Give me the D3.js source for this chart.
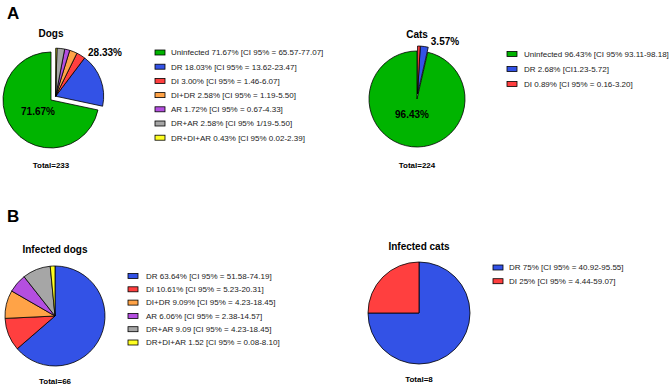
<!DOCTYPE html>
<html>
<head>
<meta charset="utf-8">
<script src="https://cdn.jsdelivr.net/npm/d3@7"></script>
<style>
body { margin: 0; background: #fff; }
svg { font-family: "Liberation Sans", Arial, sans-serif; }
</style>
</head>
<body>
<div class="container"></div>
<script>
// Data
const dogLabels = ["Uninfected 71.67% [CI 95% = 65.57-77.07]", "DR 18.03% [CI 95% = 13.62-23.47]", "DI 3.00% [CI 95% = 1.46-6.07]", "DI+DR 2.58% [CI 95% = 1.19-5.50]", "AR 1.72% [CI 95% = 0.67-4.33]", "DR+AR 2.58% [CI 95% 1/19-5.50]", "DR+DI+AR 0.43% [CI 95% 0.02-2.39]"]
const dogValues = [71.67, 18.03, 3.00, 2.58, 1.72, 2.58, 0.43]
const dogColors = ["#00b400", "#3352e6", "#ff3f3f", "#ffa347", "#b44fe0", "#a6a6a6", "#ffff22"]

const catLabels = ["Uninfected 96.43% [CI 95% 93.11-98.18]", "DR 2.68% [CI1.23-5.72]", "DI 0.89% [CI 95% = 0.16-3.20]"]
const catValues = [96.43, 2.68, 0.89]
const catColors = ["#00b400", "#3352e6", "#ff3f3f"]

const infDogLabels = ["DR 63.64%  [CI 95% = 51.58-74.19]", "DI 10.61% [CI 95% = 5.23-20.31]", "DI+DR 9.09% [CI 95% = 4.23-18.45]", "AR 6.06% [CI 95% = 2.38-14.57]", "DR+AR 9.09 [CI 95% = 4.23-18.45]", "DR+DI+AR 1.52 [CI 95% = 0.08-8.10]"]
const infDogValues = [63.64, 10.61, 9.09, 6.06, 9.09, 1.52]
const infDogColors = ["#3352e6", "#ff3f3f", "#ffa347", "#b44fe0", "#a6a6a6", "#ffff22"]

const infCatLabels = ["DR 75% [CI 95% = 40.92-95.55]", "DI 25% [CI 95% = 4.44-59.07]"]
const infCatValues = [75, 25]
const infCatColors = ["#3352e6", "#ff3f3f"]

const w = 669, h = 389;
const svg = d3.select(".container").append("svg")
  .attr("width", w).attr("height", h)

// draws a pie; explode = pull all slices but the first out as a group
function drawPie(opts) {
  const g = svg.append("g").attr("transform", `translate(${opts.cx},${opts.cy})`)
  let pie = d3.pie().sort(null)
  if (opts.ccw) pie = pie.startAngle(0).endAngle(-2 * Math.PI)
  const arcs = pie(opts.values)
  const arc = d3.arc().innerRadius(0).outerRadius(opts.r)

  let dx = 0, dy = 0
  if (opts.explode) {
    const rest = arcs.slice(1)
    const a0 = d3.min(rest, d => Math.min(d.startAngle, d.endAngle))
    const a1 = d3.max(rest, d => Math.max(d.startAngle, d.endAngle))
    const mid = (a0 + a1) / 2
    dx = Math.sin(mid) * opts.explode
    dy = -Math.cos(mid) * opts.explode
  }

  g.selectAll("path")
    .data(arcs)
    .enter()
    .append("path")
    .attr("d", arc)
    .attr("fill", (d, i) => opts.colors[i])
    .attr("stroke", "#000")
    .attr("stroke-width", 0.8)
    .attr("stroke-linejoin", "round")
    .attr("transform", (d, i) => (opts.explode && i > 0) ? `translate(${dx},${dy})` : null)

  svg.append("text")
    .attr("x", opts.cx).attr("y", opts.titleY)
    .attr("text-anchor", "middle")
    .style("font-weight", "bold").style("font-size", "10px")
    .text(opts.title)

  svg.append("text")
    .attr("x", opts.cx).attr("y", opts.totalY)
    .attr("text-anchor", "middle")
    .style("font-weight", "bold").style("font-size", "8px")
    .text(opts.total)

  if (opts.pctLabels) {
    opts.pctLabels.forEach(p => {
      svg.append("text")
        .attr("x", opts.cx + p.dx).attr("y", opts.cy + p.dy)
        .attr("text-anchor", p.anchor || "middle")
        .style("font-weight", "bold").style("font-size", "10px")
        .text(p.text)
    })
  }

  // legend
  const lg = svg.append("g").attr("transform", `translate(${opts.lx},${opts.ly})`)
  const rows = lg.selectAll("g").data(opts.labels).enter().append("g")
    .attr("transform", (d, i) => `translate(0,${i * opts.lstep})`)
  rows.append("rect")
    .attr("x", 0).attr("y", -2.5).attr("width", 10).attr("height", 5)
    .attr("fill", (d, i) => opts.colors[i])
    .attr("stroke", "#000").attr("stroke-width", 0.8)
  rows.append("text")
    .attr("x", opts.ltx).attr("y", 0).attr("dy", "0.35em")
    .style("font-size", "8px").style("fill", "#222")
    .text(d => d)
}

// panel letters
svg.append("text").attr("x", 7).attr("y", 19)
  .style("font-weight", "bold").style("font-size", "17px").text("A")
svg.append("text").attr("x", 7).attr("y", 222)
  .style("font-weight", "bold").style("font-size", "17px").text("B")

drawPie({
  cx: 51, cy: 100, r: 48, values: dogValues, colors: dogColors, ccw: true, explode: 6,
  title: "Dogs", titleY: 37, total: "Total=233", totalY: 168,
  pctLabels: [{text: "71.67%", dx: -13, dy: 15}, {text: "28.33%", dx: 54, dy: -44}],
  labels: dogLabels, lx: 155, ly: 52.5, lstep: 14.2, ltx: 16
})

drawPie({
  cx: 417, cy: 99, r: 48, values: catValues, colors: catColors, ccw: true, explode: 5,
  title: "Cats", titleY: 38, total: "Total=224", totalY: 168,
  pctLabels: [{text: "96.43%", dx: -5, dy: 19}, {text: "3.57%", dx: 28, dy: -54}],
  labels: catLabels, lx: 507, ly: 54, lstep: 15, ltx: 17
})

drawPie({
  cx: 55, cy: 316, r: 50, values: infDogValues, colors: infDogColors,
  title: "Infected dogs", titleY: 253, total: "Total=66", totalY: 384,
  labels: infDogLabels, lx: 128, ly: 276, lstep: 13.3, ltx: 18
})

drawPie({
  cx: 419, cy: 313, r: 51, values: infCatValues, colors: infCatColors,
  title: "Infected cats", titleY: 250, total: "Total=8", totalY: 382,
  labels: infCatLabels, lx: 493, ly: 267.5, lstep: 13.7, ltx: 16
})
</script>
</body>
</html>
